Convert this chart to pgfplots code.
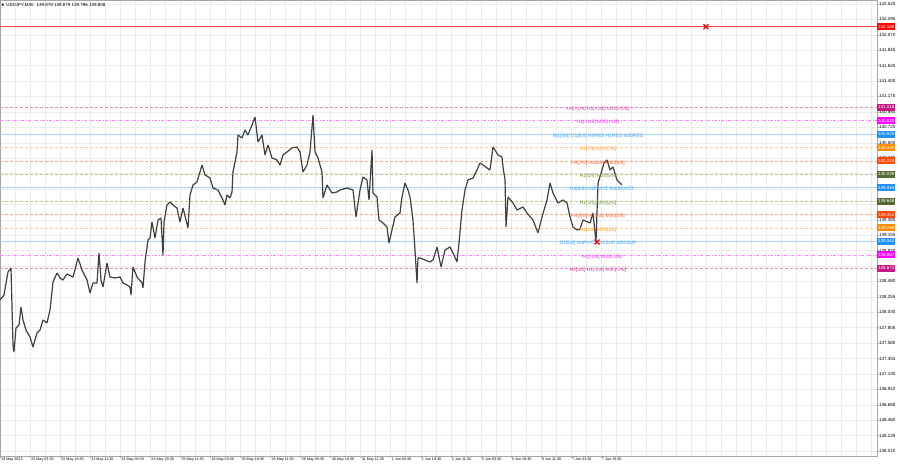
\documentclass[border=0pt]{standalone}
\usepackage{fontspec}
\setmainfont{Liberation Sans}
\newfontfamily\symfont{DejaVu Sans}
\usepackage{pgfplots}
\pgfplotsset{compat=1.18}

\definecolor{mvr}{HTML}{C71585}
\definecolor{mag}{HTML}{FF00FF}
\definecolor{dblue}{HTML}{1E90FF}
\definecolor{dorange}{HTML}{FF8C00}
\definecolor{ored}{HTML}{FF4500}
\definecolor{olive}{HTML}{556B2F}
\definecolor{olivel}{HTML}{6B8E23}
\definecolor{gridc}{HTML}{ECECEC}

\newcommand{\pxs}{\fontsize{4.5bp}{5bp}\selectfont}
\newcommand{\lvl}{\fontsize{4.9bp}{5.5bp}\selectfont}
\newcommand{\dat}{\fontsize{3.7bp}{4.2bp}\selectfont}

\begin{document}
\begin{tikzpicture}
\path[use as bounding box] (0,0) rectangle (900bp,-468bp);
\begin{axis}[
  scale only axis,
  width=877bp, height=456bp,
  at={(0,0)}, anchor=north west,
  xmin=0, xmax=877,
  ymin=135.937, ymax=142.578,
  clip=false,
  axis line style={gray!70, line width=0.5bp},
  % dates along the bottom
  xtick={0,30.05,...,602},
  xticklabels={19 May 2023,22 May 03:30,22 May 19:30,23 May 11:30,24 May 03:30,24 May 19:30,25 May 11:30,26 May 03:30,26 May 19:30,29 May 11:30,30 May 03:30,30 May 19:30,31 May 11:30,1 Jun 03:30,1 Jun 19:30,2 Jun 11:30,5 Jun 03:30,5 Jun 19:30,6 Jun 11:30,7 Jun 03:30,7 Jun 19:30},
  xticklabel style={font=\dat, anchor=north west, xshift=0.5bp, yshift=0.5bp, inner sep=0.5bp},
  minor xtick={0,15.025,...,877},
  xminorgrids=true,
  minor tick length=0pt,
  xtick pos=bottom,
  tick align=outside,
  major tick length=2bp,
  tick style={gray!70, line width=0.4bp},
  % price scale on the right
  ytick pos=right,
  yticklabel pos=right,
  ytick={142.520,142.2955,142.0710,141.8466,141.6221,141.3976,141.1731,140.9486,140.7241,140.4997,140.2752,140.0507,139.8262,139.6017,139.3772,139.1528,138.9283,138.7038,138.4793,138.2548,138.0303,137.8059,137.5814,137.3569,137.1324,136.9079,136.6834,136.4590,136.2345,136.0100},
  yticklabels={142.520,142.295,142.070,141.845,141.620,141.400,141.175,140.950,140.725,140.500,140.275,,,,139.380,139.155,138.930,,138.480,138.255,138.030,137.805,137.580,137.355,137.130,136.910,136.685,136.460,136.235,136.010},
  yticklabel style={font=\pxs, anchor=west, xshift=-0.5bp, inner sep=0.5bp},
  ymajorgrids=true,
  grid style={gridc, line width=0.4bp},
  minor grid style={gridc, line width=0.4bp},
]
% levels
\addplot[red!70, line width=0.6bp] coordinates {(0,142.188)(877,142.188)};
\addplot[mvr!50, line width=0.5bp, dash pattern=on 3bp off 2bp] coordinates {(0,141.016)(877,141.016)};
\addplot[mag!50, line width=0.5bp, dash pattern=on 3bp off 1.5bp on 1bp off 1.5bp] coordinates {(0,140.820)(877,140.820)};
\addplot[dblue!40, line width=0.8bp] coordinates {(0,140.625)(877,140.625)};
\addplot[dorange!45, line width=0.5bp, dash pattern=on 3bp off 2bp] coordinates {(0,140.430)(877,140.430)};
\addplot[ored!50, line width=0.5bp, dash pattern=on 3bp off 2bp] coordinates {(0,140.234)(877,140.234)};
\addplot[olivel!50, line width=0.5bp, dash pattern=on 3bp off 2bp] coordinates {(0,140.039)(877,140.039)};
\addplot[dblue!40, line width=0.6bp] coordinates {(0,139.844)(877,139.844)};
\addplot[olivel!50, line width=0.5bp, dash pattern=on 3bp off 2bp] coordinates {(0,139.648)(877,139.648)};
\addplot[ored!50, line width=0.5bp, dash pattern=on 3bp off 2bp] coordinates {(0,139.453)(877,139.453)};
\addplot[dorange!45, line width=0.5bp, dash pattern=on 3bp off 2bp] coordinates {(0,139.258)(877,139.258)};
\addplot[dblue!40, line width=0.6bp] coordinates {(0,139.062)(877,139.062)};
\addplot[mag!50, line width=0.5bp, dash pattern=on 3bp off 1.5bp on 1bp off 1.5bp] coordinates {(0,138.867)(877,138.867)};
\addplot[mvr!50, line width=0.5bp, dash pattern=on 3bp off 2bp] coordinates {(0,138.672)(877,138.672)};

% USDJPY M30 price path
\addplot[black!75, line width=1.2bp, line join=bevel] coordinates {
(0,138.209)(4,138.282)(8,138.617)(11,138.675)(13,137.554)(14,137.452)(16,137.801)
(19,137.845)(21,138.107)(23,137.918)(26,137.772)(30,137.670)(33,137.525)(37,137.729)
(40,137.772)(43,137.918)(47,137.874)(50,138.064)(53,138.471)(57,138.602)(60,138.530)
(63,138.500)(67,138.588)(73,138.544)(78,138.821)(82,138.646)(87,138.500)(90,138.311)
(93,138.457)(97,138.457)(99,138.894)(101,138.500)(103,138.398)(107,138.748)(110,138.544)
(115,138.530)(120,138.544)(123,138.457)(127,138.428)(130,138.398)(131,138.282)(133,138.690)
(137,138.544)(142,138.457)(143,138.384)(145,138.763)(148,139.083)(150,139.112)(152,139.345)
(155,139.112)(158,139.374)(161,139.403)(163,138.865)(164,139.345)(167,139.593)(170,139.636)
(173,139.593)(177,139.549)(180,139.345)(183,139.549)(188,139.258)(190,139.738)(193,139.884)
(197,139.928)(202,140.175)(205,140.030)(210,139.986)(213,139.840)(218,139.811)(222,139.695)
(225,139.593)(227,139.738)(230,139.695)(232,139.782)(233,140.073)(237,140.365)(238,140.612)
(242,140.569)(245,140.685)(248,140.612)(252,140.758)(255,140.874)(258,140.510)(262,140.612)
(265,140.321)(268,140.467)(272,140.277)(277,140.248)(280,140.175)(283,140.321)(287,140.365)
(292,140.423)(297,140.437)(300,140.365)(303,140.073)(307,140.175)(310,140.365)(313,140.903)
(315,140.365)(318,140.277)(322,140.073)(323,139.695)(327,139.884)(332,139.767)(337,139.782)
(340,139.811)(347,139.840)(353,139.811)(356,139.418)(360,139.811)(363,140.001)(367,139.957)
(369,139.666)(372,140.394)(373,139.767)(377,139.709)(379,139.374)(383,139.331)(387,139.272)
(389,139.039)(392,139.229)(395,139.418)(400,139.476)(402,139.709)(405,139.913)(408,139.811)
(410,139.709)(413,139.374)(415,138.937)(417,138.457)(418,138.821)(420,138.821)(425,138.792)
(430,138.763)(433,138.792)(437,138.981)(441,138.690)(445,138.937)(450,138.981)(453,138.894)
(457,138.763)(459,139.039)(462,139.520)(465,139.811)(468,139.957)(473,139.986)(477,140.102)
(480,140.204)(483,140.175)(487,140.132)(490,140.102)(493,140.437)(495,140.394)(498,140.321)
(502,140.292)(503,140.146)(505,139.957)(506,139.272)(508,139.709)(513,139.622)(517,139.520)
(523,139.564)(527,139.476)(533,139.374)(538,139.185)(542,139.418)(547,139.666)(550,139.913)
(553,139.767)(558,139.622)(563,139.666)(567,139.622)(570,139.418)(573,139.272)(577,139.229)
(580,139.243)(583,139.374)(590,139.331)(593,139.476)(596,139.054)(598,139.913)(602,140.102)
(604,140.204)(607,140.248)(610,140.102)(613,140.146)(617,139.957)(620,139.913)(622,139.884)
};

% red crosses
\addplot[only marks, mark=x, mark size=3.5bp, red!90!black, mark options={line width=1.3bp}]
  coordinates {(706,142.188)(597,139.054)};

% level captions
\node[font=\lvl, text=mvr!80] at (axis cs:598,141.016) [yshift=-2bp] {H4[+1/8] H1[+2/8] M30[+2/8]};
\node[font=\lvl, text=mag!85] at (axis cs:598,140.820) [yshift=-2bp] {H1[+1/8] M30[+1/8]};
\node[font=\lvl, text=dblue!85] at (axis cs:598,140.625) [yshift=-2bp] {W1[5/8] D1[8/8] H4RES H1RES M30RES};
\node[font=\lvl, text=dorange!85] at (axis cs:598,140.430) [yshift=-2bp] {H1[7/8] M30[7/8]};
\node[font=\lvl, text=ored!85] at (axis cs:598,140.234) [yshift=-2bp] {H4[7/8] H1[6/8] M30[6/8]};
\node[font=\lvl, text=olivel!90] at (axis cs:598,140.039) [yshift=-2bp] {H1[5/8] M30[5/8]};
\node[font=\lvl, text=dblue!85] at (axis cs:602,139.844) [yshift=-2bp] {H4[6/8] H1PIVOT M30PIVOT};
\node[font=\lvl, text=olivel!90] at (axis cs:598,139.648) [yshift=-2bp] {H1[3/8] M30[3/8]};
\node[font=\lvl, text=ored!85] at (axis cs:598,139.453) [yshift=-2bp] {H4[5/8] H1[2/8] M30[2/8]};
\node[font=\lvl, text=dorange!85] at (axis cs:598,139.258) [yshift=-2bp] {H1[1/8] M30[1/8]};
\node[font=\lvl, text=dblue!85] at (axis cs:598,139.062) [yshift=-2bp] {D1[5/8] H4PIVOT H1SUP M30SUP};
\node[font=\lvl, text=mag!85] at (axis cs:602,138.867) [yshift=-2bp] {H1[-1/8] M30[-1/8]};
\node[font=\lvl, text=mvr!80] at (axis cs:598,138.672) [yshift=-2bp] {H4[3/8] H1[-2/8] M30[-2/8]};

\coordinate (b0) at (axis cs:877,142.188);
\coordinate (b1) at (axis cs:877,141.016);
\coordinate (b2) at (axis cs:877,140.820);
\coordinate (b3) at (axis cs:877,140.625);
\coordinate (b4) at (axis cs:877,140.430);
\coordinate (b5) at (axis cs:877,140.234);
\coordinate (b6) at (axis cs:877,140.039);
\coordinate (b7) at (axis cs:877,139.844);
\coordinate (b8) at (axis cs:877,139.648);
\coordinate (b9) at (axis cs:877,139.453);
\coordinate (b10) at (axis cs:877,139.258);
\coordinate (b11) at (axis cs:877,139.062);
\coordinate (b12) at (axis cs:877,138.867);
\coordinate (b13) at (axis cs:877,138.672);
\coordinate (tl) at (axis cs:0,142.578);
\end{axis}

% price boxes on the scale
\tikzset{pbox/.style={anchor=west, font=\pxs, text=white, fill=#1, inner xsep=1bp, inner ysep=0pt, minimum height=7bp}}
\node[pbox=red] at (b0) {142.188};
\node[pbox=mvr] at (b1) {141.016};
\node[pbox=mag] at (b2) {140.820};
\node[pbox=dblue] at (b3) {140.625};
\node[pbox=dorange] at (b4) {140.430};
\node[pbox=ored] at (b5) {140.234};
\node[pbox=olive] at (b6) {140.039};
\node[pbox=dblue] at (b7) {139.844};
\node[pbox=olive] at (b8) {139.648};
\node[pbox=ored] at (b9) {139.453};
\node[pbox=dorange] at (b10) {139.258};
\node[pbox=dblue] at (b11) {139.062};
\node[pbox=mag] at (b12) {138.867};
\node[pbox=mvr] at (b13) {138.672};

% symbol caption top left
\node[anchor=north west, font=\pxs, inner sep=0pt] at ([xshift=1.5bp,yshift=-3bp]tl)
  {{\symfont\fontsize{3.5bp}{4bp}\selectfont ▼}\hspace{2bp}USDJPY,M30\hspace{3bp}139.879 139.879 139.786 139.808};
\end{tikzpicture}
\end{document}
